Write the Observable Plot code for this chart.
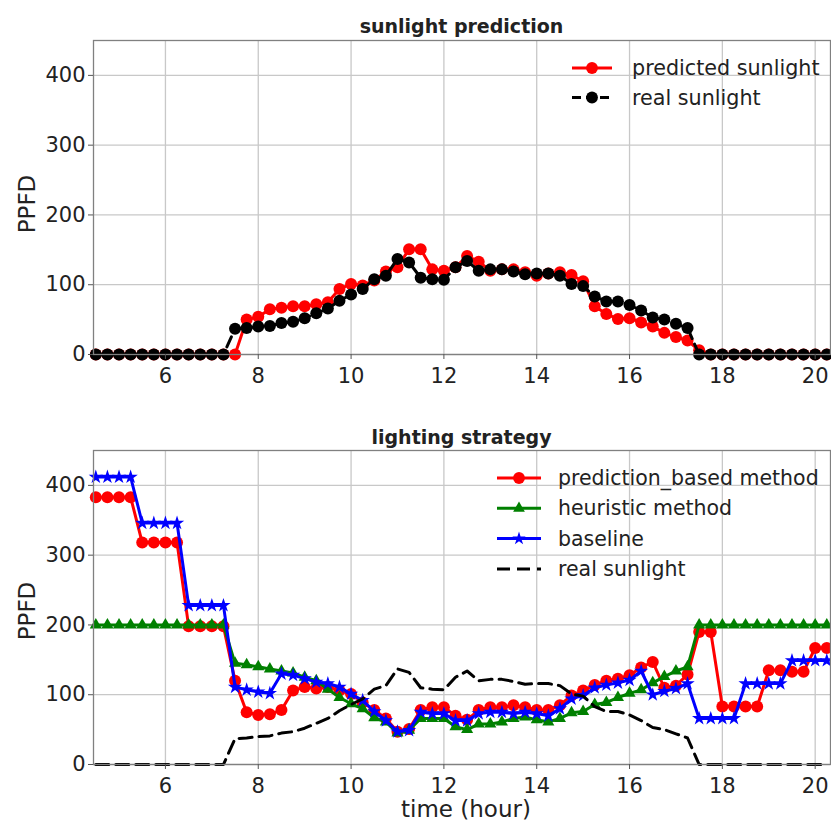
<!DOCTYPE html>
<html><head><meta charset="utf-8">
<script src="https://cdn.jsdelivr.net/npm/d3@7"></script>
<script src="https://cdn.jsdelivr.net/npm/@observablehq/plot@0.6"></script>
<style>
body{margin:0;background:#fff;}
#chart{width:831px;height:821px;position:relative;overflow:hidden;font-family:"DejaVu Sans",sans-serif;}
svg{display:block;}
</style></head><body><div id="chart"></div>
<script>
// time of day (hour), 15-minute steps
const hours = [4.5,4.75,5,5.25,5.5,5.75,6,6.25,6.5,6.75,7,7.25,7.5,7.75,8,8.25,8.5,8.75,9,9.25,9.5,9.75,10,10.25,10.5,10.75,11,11.25,11.5,11.75,12,12.25,12.5,12.75,13,13.25,13.5,13.75,14,14.25,14.5,14.75,15,15.25,15.5,15.75,16,16.25,16.5,16.75,17,17.25,17.5,17.75,18,18.25,18.5,18.75,19,19.25,19.5,19.75,20,20.25];

const realSunlight = [0,0,0,0,0,0,0,0,0,0,0,0,37,38,40,41,45,47,52,59,66,77,86,94,108,113,137,132,110,108,107,125,134,120,122,122,119,115,116,116,113,101,98,83,76,76,71,63,53,50,44,38,0,0,0,0,0,0,0,0,0,0,0,0];
const predictedSunlight = [0,0,0,0,0,0,0,0,0,0,0,0,0,50,54,65,67,69,69,72,75,94,101,99,106,119,125,151,151,122,120,125,141,133,120,122,122,118,113,116,118,114,105,69,58,51,52,46,40,31,25,20,6,0,0,0,0,0,0,0,0,0,0,0];

const predictionBased = [383,383,383,383,318,318,318,318,198,198,198,198,120,75,71,72,78,106,111,109,111,106,101,89,78,66,47,51,78,82,82,70,64,78,82,82,85,82,78,78,85,99,106,114,120,123,128,139,147,110,113,129,190,190,83,83,83,83,135,135,133,133,167,167];
const heuristic = [200,200,200,200,200,200,200,200,200,200,200,200,145,143,140,137,134,131,125,120,108,96,87,80,67,61,45,49,66,66,66,54,50,58,58,61,66,68,64,61,66,74,76,86,89,96,102,107,117,126,134,140,200,200,200,200,200,200,200,200,200,200,200,200];
const baseline = [412,412,412,412,346,346,346,346,228,228,228,228,111,107,104,102,130,128,123,118,116,111,101,92,76,63,47,49,75,73,73,63,63,73,75,75,73,75,73,70,80,94,99,110,114,117,121,134,100,105,109,116,66,66,66,66,116,116,116,116,149,149,149,149];

const xTicks = [6,8,10,12,14,16,18,20];
const yTicks = [0,100,200,300,400];
const xDomain = [4.45, 20.33];
const yDomain = [0, 450];

const rows = (ys) => hours.map((h, i) => ({h, v: ys[i]}));

function basePanel(height, marginTop, marginBottom, marks) {
  return Plot.plot({
    width: 831, height, marginLeft: 93, marginRight: 1, marginTop, marginBottom,
    style: {fontFamily: "DejaVu Sans, sans-serif", fontSize: "21px", color: "#222", background: "#fff", overflow: "visible"},
    x: {domain: xDomain},
    y: {domain: yDomain},
    marks: [
      Plot.gridX(xTicks, {stroke: "#c8c8c8", strokeOpacity: 1, strokeWidth: 1.3}),
      Plot.gridY(yTicks, {stroke: "#c8c8c8", strokeOpacity: 1, strokeWidth: 1.3}),
      ...marks,
      Plot.frame({stroke: "#808080", strokeWidth: 1.3}),
      Plot.axisX(xTicks, {tickSize: 5, tickPadding: 9, label: null, fontSize: 21, stroke: "#555"}),
      Plot.axisY(yTicks, {tickSize: 5, tickPadding: 3, label: null, fontSize: 21, stroke: "#555"})
    ]
  });
}

function addText(svg, x, y, txt, opts = {}) {
  const t = d3.select(svg).append("text")
    .attr("x", x).attr("y", y)
    .attr("text-anchor", opts.anchor || "middle")
    .attr("font-family", "DejaVu Sans, sans-serif")
    .attr("font-size", opts.size || 21)
    .attr("font-weight", opts.weight || "normal")
    .attr("fill", "#222")
    .text(txt);
  if (opts.dy) t.attr("dy", opts.dy);
  if (opts.rotate) t.attr("transform", `rotate(-90,${x},${y})`);
  return t;
}

function addLegend(svg, items, x0, x1, textX, y0, dy, fontSize) {
  const g = d3.select(svg).append("g");
  items.forEach((it, k) => {
    const y = y0 + k * dy;
    g.append("line").attr("x1", x0).attr("x2", x1).attr("y1", y).attr("y2", y)
      .attr("stroke", it.color).attr("stroke-width", 3)
      .attr("stroke-dasharray", it.dash || null);
    if (it.symbol) {
      g.append("path").attr("d", d3.symbol(it.symbol, it.size)())
        .attr("transform", `translate(${(x0 + x1) / 2},${y})`).attr("fill", it.color);
    }
    g.append("text").attr("x", textX).attr("y", y).attr("dy", "0.35em")
      .attr("text-anchor", "start")
      .attr("font-family", "DejaVu Sans, sans-serif")
      .attr("font-size", fontSize).attr("fill", "#222").text(it.label);
  });
}

const topPanel = basePanel(410, 40, 56, [
  Plot.line(rows(predictedSunlight), {x: "h", y: "v", stroke: "red", strokeWidth: 3}),
  Plot.dot(rows(predictedSunlight), {x: "h", y: "v", fill: "red", r: 6}),
  Plot.line(rows(realSunlight), {x: "h", y: "v", stroke: "black", strokeWidth: 3, strokeDasharray: "11,6"}),
  Plot.dot(rows(realSunlight), {x: "h", y: "v", fill: "black", r: 6})
]);
addText(topPanel, 461.5, 33, "sunlight prediction", {size: 19, weight: "bold"});
addText(topPanel, 35, 204, "PPFD", {size: 23, rotate: true});
addLegend(topPanel, [
  {label: "predicted sunlight", color: "red", symbol: d3.symbolCircle, size: 110},
  {label: "real sunlight", color: "black", dash: "9,5", symbol: d3.symbolCircle, size: 110}
], 572, 612, 632, 68, 29.5, 20.7);

const bottomPanel = basePanel(411, 40, 57, [
  Plot.line(rows(predictionBased), {x: "h", y: "v", stroke: "red", strokeWidth: 3}),
  Plot.dot(rows(predictionBased), {x: "h", y: "v", fill: "red", r: 6}),
  Plot.line(rows(heuristic), {x: "h", y: "v", stroke: "green", strokeWidth: 3}),
  Plot.dot(rows(heuristic), {x: "h", y: "v", fill: "green", symbol: "triangle", r: 4.5}),
  Plot.line(rows(baseline), {x: "h", y: "v", stroke: "blue", strokeWidth: 3}),
  Plot.dot(rows(baseline), {x: "h", y: "v", fill: "blue", symbol: "star", r: 4.5}),
  Plot.line(rows(realSunlight), {x: "h", y: "v", stroke: "black", strokeWidth: 3, strokeDasharray: "13,7"})
]);
addText(bottomPanel, 461.5, 34, "lighting strategy", {size: 19, weight: "bold"});
addText(bottomPanel, 35, 201, "PPFD", {size: 23, rotate: true});
addText(bottomPanel, 466, 407, "time (hour)", {size: 23});
addLegend(bottomPanel, [
  {label: "prediction_based method", color: "red", symbol: d3.symbolCircle, size: 110},
  {label: "heuristic method", color: "green", symbol: d3.symbolTriangle, size: 60},
  {label: "baseline", color: "blue", symbol: d3.symbolStar, size: 55},
  {label: "real sunlight", color: "black", dash: "13,7"}
], 497, 541, 558, 68, 30.3, 20.5);

document.getElementById("chart").append(topPanel, bottomPanel);
</script>
</body></html>
